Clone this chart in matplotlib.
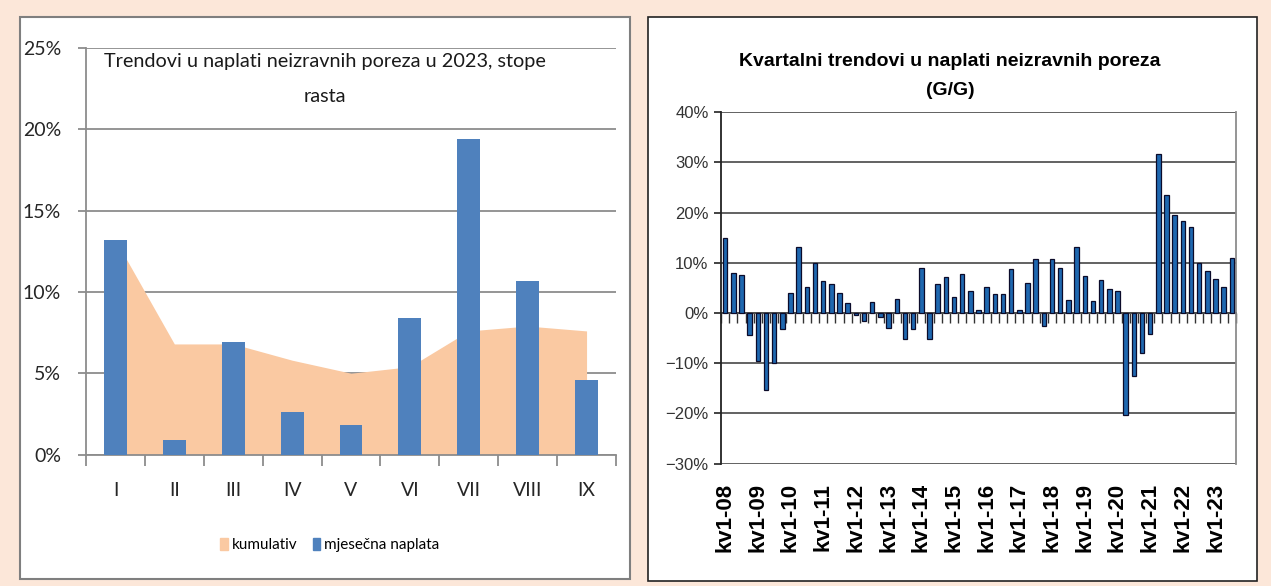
import numpy as np
import matplotlib.pyplot as plt
from matplotlib.patches import Rectangle, Patch
from matplotlib.ticker import PercentFormatter, FixedLocator

# lijevi grafikon: mjesečne stope rasta 2023 (%)
months = ['I', 'II', 'III', 'IV', 'V', 'VI', 'VII', 'VIII', 'IX']
mjesecna = [13.2, 0.9, 6.9, 2.6, 1.8, 8.4, 19.4, 10.7, 4.6]
kumulativ = [13.2, 6.8, 6.8, 5.8, 5.0, 5.4, 7.6, 7.9, 7.6]

# desni grafikon: kvartalne stope G/G (%), kv1-08 .. kv3-23
kvartali = [14.9, 7.9, 7.5, -4.4, -9.6, -15.3, -9.9, -3.1,
            4.0, 13.1, 5.2, 9.9, 6.3, 5.8, 4.0, 2.0,
            -0.4, -1.5, 2.3, -0.7, -2.9, 2.9, -5.1, -3.1,
            8.9, -5.1, 5.8, 7.1, 3.2, 7.8, 4.4, 0.6,
            5.2, 3.8, 3.8, 8.7, 0.6, 5.9, 10.7, -2.6,
            10.7, 9.0, 2.7, 13.1, 7.3, 2.5, 6.6, 4.9,
            4.5, -20.2, -12.6, -7.9, -4.1, 31.6, 23.5, 19.5,
            18.3, 17.2, 9.9, 8.4, 6.8, 5.1, 10.9]
godine = list(range(2008, 2024))
kv_labels = ['kv1-%02d' % (g % 100) for g in godine]

W, H = 1271, 586
fig = plt.figure(figsize=(W / 100, H / 100), dpi=100)
fig.patch.set_facecolor('#FCE7D9')

def fx(px):
    return px / W

def fy(py):
    return 1 - py / H

# paneli
fig.patches.append(Rectangle((fx(20), fy(579)), fx(610), (562) / H, transform=fig.transFigure,
                             facecolor='white', edgecolor='#7f7f7f', lw=1.5, zorder=-5))
fig.patches.append(Rectangle((fx(648), fy(581)), fx(609), (564) / H, transform=fig.transFigure,
                             facecolor='white', edgecolor='#222222', lw=1.2, zorder=-5))

left_font = ['Lato', 'DejaVu Sans']
arial = ['Liberation Sans', 'DejaVu Sans']

# ---------- lijevi grafikon ----------
ax1 = fig.add_axes([fx(86), fy(454.5), fx(530), 406.5 / H])
ax1.set_facecolor('none')
x = np.arange(len(months))
ax1.fill_between(x, kumulativ, 0, color='#FAC9A2', lw=0, zorder=2)
ax1.bar(x, mjesecna, width=0.39, color='#4F81BD', zorder=3)
ax1.set_xlim(-0.5, len(months) - 0.5)
ax1.set_ylim(0, 25)
ax1.yaxis.set_major_locator(FixedLocator([0, 5, 10, 15, 20, 25]))
ax1.yaxis.set_major_formatter(PercentFormatter(decimals=0))
ax1.grid(axis='y', color='#8c8c8c', lw=1.3, zorder=1)
ax1.set_axisbelow(True)
for s in ['top', 'right']:
    ax1.spines[s].set_visible(False)
for s in ['left', 'bottom']:
    ax1.spines[s].set_color('#8c8c8c')
    ax1.spines[s].set_linewidth(1.3)
ax1.set_xticks(x)
ax1.set_xticklabels(months)
ax1.set_xticks(np.arange(len(months) + 1) - 0.5, minor=True)
ax1.tick_params(axis='x', which='major', length=0, pad=20)
ax1.tick_params(axis='x', which='minor', length=8, color='#8c8c8c', width=1.3)
ax1.tick_params(axis='y', length=6, color='#8c8c8c', width=1.3, pad=12)
for t in ax1.get_xticklabels() + ax1.get_yticklabels():
    t.set_family(left_font)
    t.set_fontsize(14)
    t.set_color('#262626')

fig.text(fx(325), fy(62), 'Trendovi u naplati neizravnih poreza u 2023, stope',
         family=left_font, fontsize=14.3, ha='center', va='center', color='#1a1a1a')
fig.text(fx(325), fy(97), 'rasta', family=left_font, fontsize=14.3, ha='center',
         va='center', color='#1a1a1a')

handles = [Patch(color='#FAC9A2', label='kumulativ'),
           Patch(color='#4F81BD', label='mjesečna naplata')]
fig.legend(handles=handles, loc='center', bbox_to_anchor=(fx(330), fy(545)), ncol=2,
           frameon=False, handlelength=0.5, handleheight=0.9, handletextpad=0.25,
           columnspacing=1.0, prop={'family': left_font, 'size': 11})

# ---------- desni grafikon ----------
ax2 = fig.add_axes([fx(721), fy(463.7), fx(515), 351.4 / H])
ax2.set_facecolor('none')
q = np.arange(len(kvartali))
ax2.bar(q, kvartali, width=0.55, color='#1F68B0', edgecolor='#0b0b2a', lw=0.9, zorder=3)
ylo, yhi = -30, 40
ax2.set_xlim(-0.5, len(kvartali) - 0.5)
ax2.set_ylim(ylo, yhi)
ax2.yaxis.set_major_locator(FixedLocator(range(-30, 41, 10)))
ax2.yaxis.set_major_formatter(PercentFormatter(decimals=0))
ax2.grid(axis='y', color='#555555', lw=1.3, zorder=1)
ax2.set_axisbelow(True)
ax2.spines['left'].set_color('#222222')
ax2.spines['left'].set_linewidth(1.3)
ax2.spines['right'].set_color('#8c8c8c')
ax2.spines['right'].set_linewidth(1.3)
ax2.spines['top'].set_visible(False)
ax2.spines['bottom'].set_visible(False)
ax2.tick_params(axis='y', length=5, color='#222222', width=1.2, pad=4,
                labelsize=12, labelcolor='#333333')
for t in ax2.get_yticklabels():
    t.set_family(arial)
ax2.set_xticks(q[::4])
ax2.set_xticklabels(kv_labels, rotation=90, family=arial, fontsize=16,
                    fontweight='bold', color='black')
ax2.tick_params(axis='x', length=0, pad=14)

# os nula s oznakama izmedju kvartala
sec = ax2.secondary_xaxis((0 - ylo) / (yhi - ylo))
sec.set_xticks(np.arange(len(kvartali) + 1) - 0.5)
sec.set_xticklabels([])
sec.tick_params(length=7, color='#333333', width=1.0, direction='out')
sec.spines['bottom'].set_color('black')
sec.spines['bottom'].set_linewidth(1.4)

fig.text(fx(950), fy(61), 'Kvartalni trendovi u naplati neizravnih poreza',
         family=arial, fontsize=14, fontweight='bold', ha='center', va='center')
fig.text(fx(950), fy(90), '(G/G)', family=arial, fontsize=14, fontweight='bold',
         ha='center', va='center')

fig.savefig('out.png', dpi=100, facecolor=fig.get_facecolor())
